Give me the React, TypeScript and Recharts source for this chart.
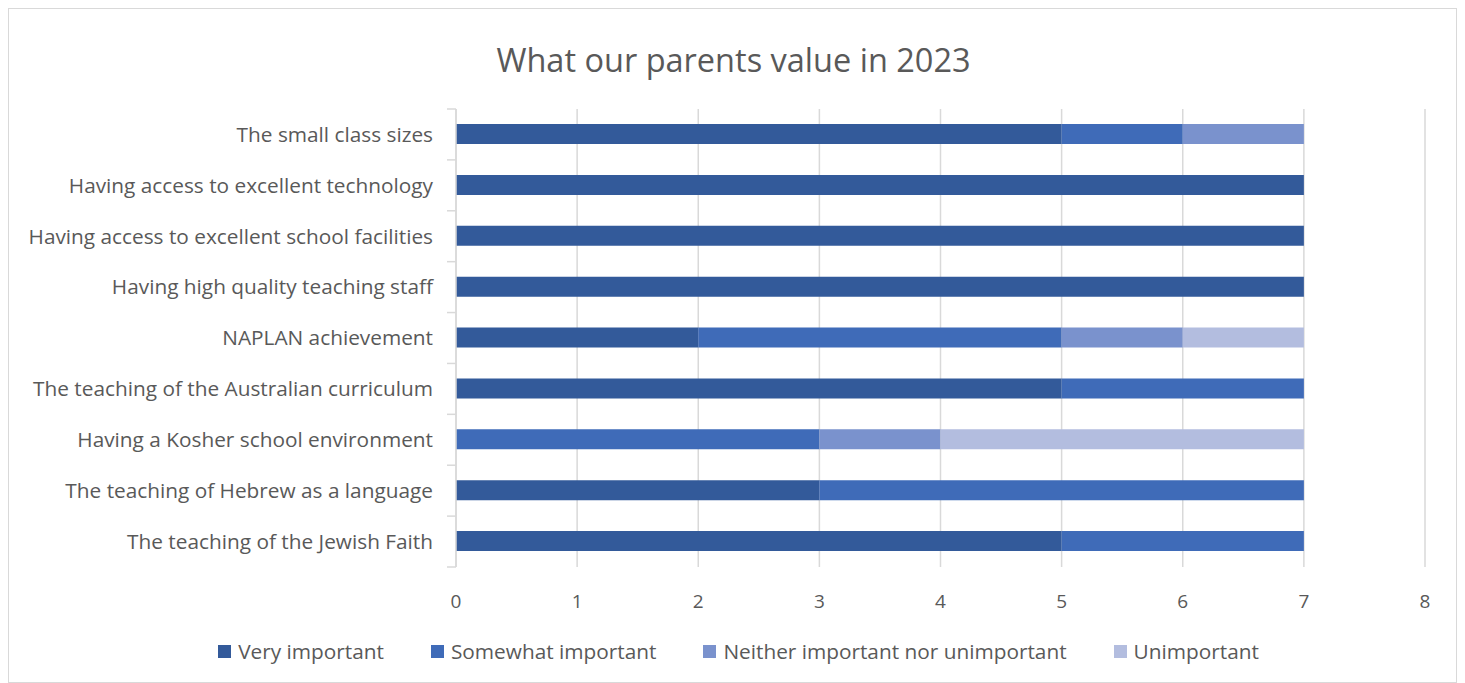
import { BarChart, Bar, XAxis, YAxis, CartesianGrid } from 'recharts';

const categories = [
  'The small class sizes',
  'Having access to excellent technology',
  'Having access to excellent school facilities',
  'Having high quality teaching staff',
  'NAPLAN achievement',
  'The teaching of the Australian curriculum',
  'Having a Kosher school environment',
  'The teaching of Hebrew as a language',
  'The teaching of the Jewish Faith',
];

const veryImportant = [5, 7, 7, 7, 2, 5, 0, 3, 5];
const somewhatImportant = [1, 0, 0, 0, 3, 2, 3, 4, 2];
const neither = [1, 0, 0, 0, 1, 0, 1, 0, 0];
const unimportant = [0, 0, 0, 0, 1, 0, 3, 0, 0];

const xTicks = [0, 1, 2, 3, 4, 5, 6, 7, 8];

const SERIES = [
  { key: 'very', name: 'Very important', color: '#335A9A' },
  { key: 'somewhat', name: 'Somewhat important', color: '#3F6BB8' },
  { key: 'neither', name: 'Neither important nor unimportant', color: '#7A92CD' },
  { key: 'unimportant', name: 'Unimportant', color: '#B3BDDF' },
];

const data = categories.map((name, i) => ({
  name,
  very: veryImportant[i],
  somewhat: somewhatImportant[i],
  neither: neither[i],
  unimportant: unimportant[i],
}));

const FONT = '"Open Sans", sans-serif';
const TEXT = '#595959';
const GRID = '#d9d9d9';
const TICK_SIZE = 6;
const TICK_MARGIN = 17;

// category label plus the small boundary marks Excel draws between rows
function CategoryTick(props: any) {
  const { x, y, payload, index, visibleTicksCount } = props;
  const axisX = x + TICK_SIZE + TICK_MARGIN;
  const half = payload.offset || 0;
  const isLast = index === visibleTicksCount - 1;
  return (
    <g>
      <line x1={axisX - 9} x2={axisX} y1={y - half} y2={y - half} stroke={GRID} strokeWidth={1.5} />
      {isLast && <line x1={axisX - 9} x2={axisX} y1={y + half} y2={y + half} stroke={GRID} strokeWidth={1.5} />}
      <text x={x} y={y} dy="0.355em" textAnchor="end" fill={TEXT} fontSize={20.8} fontFamily={FONT}>
        {payload.value}
      </text>
    </g>
  );
}

export default function App() {
  return (
    <div style={{ position: 'relative', width: 1447, height: 673, border: `1px solid ${GRID}`, fontFamily: FONT }}>
      <div style={{ position: 'absolute', top: 28, left: 1, width: '100%', textAlign: 'center', fontSize: 32.5, color: TEXT }}>
        What our parents value in 2023
      </div>
      <BarChart
        width={1447}
        height={673}
        data={data}
        layout="vertical"
        margin={{ top: 100, right: 31, bottom: 85, left: 0 }}
      >
        <CartesianGrid horizontal={false} stroke={GRID} strokeWidth={1.5} />
        <YAxis
          type="category"
          dataKey="name"
          width={447}
          axisLine={{ stroke: GRID, strokeWidth: 1.5 }}
          tickLine={false}
          tickSize={TICK_SIZE}
          tickMargin={TICK_MARGIN}
          tick={<CategoryTick />}
          interval={0}
        />
        <XAxis
          type="number"
          domain={[0, 8]}
          ticks={xTicks}
          axisLine={false}
          tickLine={false}
          tickMargin={22}
          tick={{ fill: TEXT, fontSize: 19, fontFamily: FONT }}
        />
        {SERIES.map((s) => (
          <Bar
            key={s.key}
            dataKey={s.key}
            name={s.name}
            stackId="a"
            fill={s.color}
            barSize={20}
            isAnimationActive={false}
          />
        ))}
      </BarChart>
      <div
        style={{
          position: 'absolute',
          top: 628,
          left: 6,
          width: '100%',
          display: 'flex',
          justifyContent: 'center',
          gap: 47,
          fontSize: 20.8,
          color: TEXT,
        }}
      >
        {SERIES.map((s) => (
          <div key={s.key} style={{ display: 'flex', alignItems: 'center' }}>
            <span style={{ width: 13, height: 13, background: s.color, marginRight: 7, display: 'inline-block' }} />
            {s.name}
          </div>
        ))}
      </div>
    </div>
  );
}
